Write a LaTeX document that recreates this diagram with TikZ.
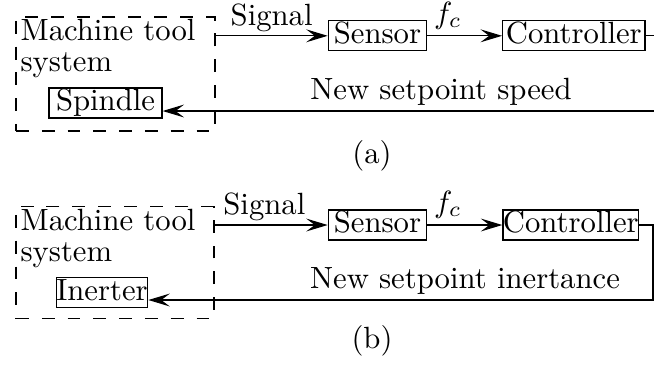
\documentclass[tikz,border=0pt]{standalone}
\usetikzlibrary{arrows.meta}
\def\pxu{0.3257pt}
\begin{document}
\begin{tikzpicture}[x=0.3257pt, y=-0.3257pt,
  box/.style={draw, inner xsep=0pt, inner ysep=0.4pt, text height=7pt, text depth=2pt},
  sys/.style={draw, dash pattern=on 4.2pt off 4.2pt, inner sep=0pt},
  lbl/.style={inner sep=1.2pt},
  txt/.style={anchor=base west, inner sep=0pt},
  arr/.style={-{Stealth[length=7pt,width=4.2pt,inset=2.8pt]}}]
\useasboundingbox (0,0) rectangle (654,365);
% ---------- (a)
\node[sys, minimum width=199*\pxu, minimum height=114*\pxu] (mtsA) at (115.5,74) {};
\node[txt] (mtA1) at (20,40) {Machine tool};
\node[txt] (mtA2) at (20,71.7) {system};
\node[box, minimum width=113*\pxu] (spA) at (105.5,103) {Spindle};
\node[box, minimum width=98.4*\pxu] (seA) at (377.5,35.8) {Sensor};
\node[box, minimum width=142.3*\pxu] (coA) at (573.8,35.8) {Controller};
\coordinate (rA) at (654,111);
\draw[arr] (seA.west -| mtsA.east) -- node[above, lbl] (sgA) {Signal} (seA.west);
\draw[arr] (seA.east) -- (coA.west);
\node[above right, inner sep=2pt] (fcA) at (seA.east) {$f_c$};
\draw (coA.east) -- (coA.east -| rA);
\draw[arr] (rA) -- (rA -| spA.east);
\node[above, inner sep=1.7pt] (nsA) at (441,111) {New setpoint speed};
\node (capA) at (372,156) {(a)};
% ---------- (b)
\node[sys, minimum width=198*\pxu, minimum height=111.6*\pxu] (mtsB) at (115,262.5) {};
\node[txt] (mtB1) at (20,230) {Machine tool};
\node[txt] (mtB2) at (20,261.7) {system};
\node[box] (inB) at (102,292.8) {Inerter};
\node[box, minimum width=98.4*\pxu] (seB) at (377.5,225) {Sensor};
\node[box] (coB) at (570.8,225) {Controller};
\coordinate (rB) at (653,300);
\draw[arr] (seB.west -| mtsB.east) -- node[above, lbl, pos=0.44] (sgB) {Signal} (seB.west);
\draw[arr] (seB.east) -- (coB.west);
\node[above right, inner sep=2pt] (fcB) at (seB.east) {$f_c$};
\draw[arr] (coB.east) -| (rB) -- (rB -| inB.east);
\node[above, inner sep=1.7pt] (nsB) at (465,300) {New setpoint inertance};
\node (capB) at (372,341) {(b)};
\end{tikzpicture}
\end{document}
